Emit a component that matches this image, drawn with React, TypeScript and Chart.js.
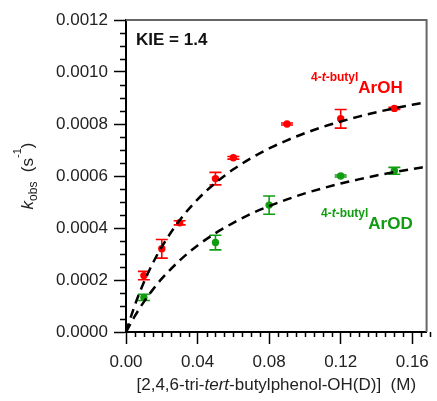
import { useEffect, useRef } from "react";
import { Chart, registerables } from "chart.js";

Chart.register(...registerables);

const FONT = '"Liberation Sans", Arial, Helvetica, sans-serif';
const RED = "#ff0000";
const GREEN = "#129c12";

// 4-t-butyl ArOH (red)
const xArOH = [0.01, 0.02, 0.03, 0.05, 0.06, 0.09, 0.12, 0.15];
const kArOH = [0.000217, 0.00032, 0.00042, 0.00059, 0.00067, 0.0008, 0.00082, 0.00086];
const errArOH = [0.000016, 0.000036, 0.000008, 0.000024, 0.000005, 0.000004, 0.000036, 0.000004];

// 4-t-butyl ArOD (green)
const xArOD = [0.01, 0.05, 0.08, 0.12, 0.15];
const kArOD = [0.000133, 0.000344, 0.000488, 0.0006, 0.00062];
const errArOD = [0.000012, 0.000028, 0.000035, 0.000004, 0.000013];

// dashed saturation fits
const fitX = [0, 0.005, 0.01, 0.015, 0.02, 0.03, 0.04, 0.05, 0.06, 0.07, 0.08, 0.09, 0.1, 0.11, 0.12, 0.13, 0.14, 0.15, 0.16, 0.168];
const fitArOH = [0, 0.0001043, 0.0001912, 0.0002647, 0.0003277, 0.0004301, 0.0005098, 0.0005735, 0.0006256, 0.0006691, 0.0007058, 0.0007374, 0.0007647, 0.0007886, 0.0008096, 0.0008284, 0.0008452, 0.0008603, 0.0008739, 0.0008839];
const fitArOD = [0, 0.0000618, 0.000116, 0.000163, 0.000205, 0.000275, 0.000333, 0.00038, 0.00042, 0.000455, 0.000484, 0.00051, 0.000533, 0.000553, 0.000571, 0.000587, 0.000602, 0.000615, 0.000627, 0.000636];

// axis ranges and ticks
const X_MIN = 0;
const X_MAX = 0.168;
const X_STEP = 0.04;
const X_MINOR = 0.005;
const Y_MIN = 0;
const Y_MAX = 0.0012;
const Y_STEP = 0.0002;
const Y_MINOR = 0.00005;

const toPoints = (xs: number[], ys: number[]) => xs.map((x, i) => ({ x, y: ys[i] }));

type Run = { text: string; font: string; color: string; dy?: number };

function measureRuns(ctx: CanvasRenderingContext2D, runs: Run[]) {
  return runs.reduce((w, r) => {
    ctx.font = r.font;
    return w + ctx.measureText(r.text).width;
  }, 0);
}

function drawRuns(ctx: CanvasRenderingContext2D, runs: Run[], x: number, y: number) {
  let cx = x;
  ctx.textBaseline = "alphabetic";
  ctx.textAlign = "left";
  for (const r of runs) {
    ctx.font = r.font;
    ctx.fillStyle = r.color;
    ctx.fillText(r.text, cx, y + (r.dy || 0));
    cx += ctx.measureText(r.text).width;
  }
}

const errorBars = {
  id: "errorBars",
  beforeDatasetsDraw(chart: any) {
    const { ctx } = chart;
    const xs = chart.scales.x;
    const ys = chart.scales.y;
    chart.data.datasets.forEach((ds: any) => {
      if (!ds.errors) return;
      ctx.save();
      ctx.strokeStyle = ds.borderColor;
      ctx.lineWidth = 1.6;
      ds.data.forEach((p: any, j: number) => {
        const px = xs.getPixelForValue(p.x);
        const top = ys.getPixelForValue(p.y + ds.errors[j]);
        const bot = ys.getPixelForValue(p.y - ds.errors[j]);
        ctx.beginPath();
        ctx.moveTo(px, top);
        ctx.lineTo(px, bot);
        ctx.moveTo(px - 6, top);
        ctx.lineTo(px + 6, top);
        ctx.moveTo(px - 6, bot);
        ctx.lineTo(px + 6, bot);
        ctx.stroke();
      });
      ctx.restore();
    });
  },
};

const frameAndText = {
  id: "frameAndText",
  afterDraw(chart: any) {
    const { ctx, chartArea: a } = chart;
    const xs = chart.scales.x;
    const ys = chart.scales.y;
    ctx.save();

    // top and right frame
    ctx.strokeStyle = "#666";
    ctx.lineWidth = 2;
    ctx.beginPath();
    ctx.moveTo(a.left, a.top);
    ctx.lineTo(a.right, a.top);
    ctx.lineTo(a.right, a.bottom);
    ctx.stroke();

    // minor ticks
    ctx.strokeStyle = "#000";
    ctx.lineWidth = 1.5;
    ctx.beginPath();
    const nx = Math.round((X_MAX - X_MIN) / X_MINOR);
    const perX = Math.round(X_STEP / X_MINOR);
    for (let i = 1; i <= nx; i++) {
      if (i % perX === 0) continue;
      const px = Math.round(xs.getPixelForValue(X_MIN + i * X_MINOR)) + 0.5;
      ctx.moveTo(px, a.bottom);
      ctx.lineTo(px, a.bottom + 5);
    }
    const ny = Math.round((Y_MAX - Y_MIN) / Y_MINOR);
    const perY = Math.round(Y_STEP / Y_MINOR);
    for (let i = 1; i <= ny; i++) {
      if (i % perY === 0) continue;
      const py = Math.round(ys.getPixelForValue(Y_MIN + i * Y_MINOR)) + 0.5;
      ctx.moveTo(a.left, py);
      ctx.lineTo(a.left - 6, py);
    }
    ctx.stroke();

    // x axis title
    const reg = `17px ${FONT}`;
    const ital = `italic 17px ${FONT}`;
    const xTitle: Run[] = [
      { text: "[2,4,6-tri-", font: reg, color: "#222" },
      { text: "tert", font: ital, color: "#222" },
      { text: "-butylphenol-OH(D)]  (M)", font: reg, color: "#222" },
    ];
    const wx = measureRuns(ctx, xTitle);
    drawRuns(ctx, xTitle, (a.left + a.right) / 2 - wx / 2, 390);

    // y axis title, rotated
    const yTitle: Run[] = [
      { text: "k", font: ital, color: "#222" },
      { text: "obs", font: `12px ${FONT}`, color: "#222", dy: 4 },
      { text: "  (s", font: reg, color: "#222" },
      { text: "-1", font: `11px ${FONT}`, color: "#222", dy: -12 },
      { text: ")", font: reg, color: "#222" },
    ];
    const wy = measureRuns(ctx, yTitle);
    ctx.save();
    ctx.translate(33, (a.top + a.bottom) / 2);
    ctx.rotate(-Math.PI / 2);
    drawRuns(ctx, yTitle, -wy / 2, 0);
    ctx.restore();

    // KIE label
    drawRuns(ctx, [{ text: "KIE = 1.4", font: `bold 17px ${FONT}`, color: "#111" }], 136, 45);

    // series labels
    const small = `bold 12px ${FONT}`;
    const smallIt = `italic bold 12px ${FONT}`;
    const big = `bold 17px ${FONT}`;
    const label = (color: string, name: string, x: number, y: number) => {
      const pre: Run[] = [
        { text: "4-", font: small, color },
        { text: "t", font: smallIt, color },
        { text: "-butyl", font: small, color },
      ];
      const w = measureRuns(ctx, pre);
      drawRuns(ctx, pre, x, y);
      drawRuns(ctx, [{ text: name, font: big, color }], x + w, y + 12);
    };
    label(RED, "ArOH", 311, 81);
    label(GREEN, "ArOD", 321, 217);

    ctx.restore();
  },
};

export default function App() {
  const ref = useRef<HTMLCanvasElement | null>(null);

  useEffect(() => {
    if (!ref.current) return;
    const tickFont = { family: FONT, size: 17 };
    const chart = new Chart(ref.current, {
      type: "scatter",
      data: {
        datasets: [
          {
            label: "fit ArOH",
            type: "line",
            data: toPoints(fitX, fitArOH),
            borderColor: "#000",
            borderWidth: 2.5,
            borderDash: [9, 6],
            pointRadius: 0,
            fill: false,
            cubicInterpolationMode: "monotone",
          },
          {
            label: "fit ArOD",
            type: "line",
            data: toPoints(fitX, fitArOD),
            borderColor: "#000",
            borderWidth: 2.5,
            borderDash: [9, 6],
            pointRadius: 0,
            fill: false,
            cubicInterpolationMode: "monotone",
          },
          {
            label: "4-t-butyl ArOH",
            data: toPoints(xArOH, kArOH),
            errors: errArOH,
            borderColor: RED,
            backgroundColor: RED,
            pointRadius: 3.7,
            pointBorderWidth: 0,
          } as any,
          {
            label: "4-t-butyl ArOD",
            data: toPoints(xArOD, kArOD),
            errors: errArOD,
            borderColor: GREEN,
            backgroundColor: GREEN,
            pointRadius: 3.7,
            pointBorderWidth: 0,
          } as any,
        ],
      },
      options: {
        animation: false,
        responsive: false,
        events: [],
        layout: { padding: { top: 20, right: 2, left: 0, bottom: 0 } },
        plugins: { legend: { display: false }, tooltip: { enabled: false } },
        scales: {
          x: {
            type: "linear",
            min: X_MIN,
            max: X_MAX,
            afterFit: (s: any) => {
              s.height = 69;
            },
            ticks: {
              stepSize: X_STEP,
              includeBounds: false,
              autoSkip: false,
              maxRotation: 0,
              padding: 8,
              color: "#222",
              font: tickFont,
              callback: (v: any) => Number(v).toFixed(2),
            },
            grid: { drawOnChartArea: false, drawTicks: true, tickLength: 12, tickColor: "#000", tickWidth: 1.5 },
            border: { display: true, color: "#000", width: 2 },
          },
          y: {
            type: "linear",
            min: Y_MIN,
            max: Y_MAX,
            afterFit: (s: any) => {
              s.width = 126;
            },
            ticks: {
              stepSize: Y_STEP,
              autoSkip: false,
              padding: 6,
              color: "#222",
              font: tickFont,
              callback: (v: any) => Number(v).toFixed(4),
            },
            grid: { drawOnChartArea: false, drawTicks: true, tickLength: 12, tickColor: "#000", tickWidth: 1.5 },
            border: { display: true, color: "#000", width: 2 },
          },
        },
      },
      plugins: [errorBars, frameAndText],
    } as any);
    return () => chart.destroy();
  }, []);

  return (
    <div style={{ position: "fixed", left: 0, top: 0, width: 437, height: 401, background: "#fff" }}>
      <canvas ref={ref} width={437} height={401} style={{ display: "block" }} />
    </div>
  );
}
